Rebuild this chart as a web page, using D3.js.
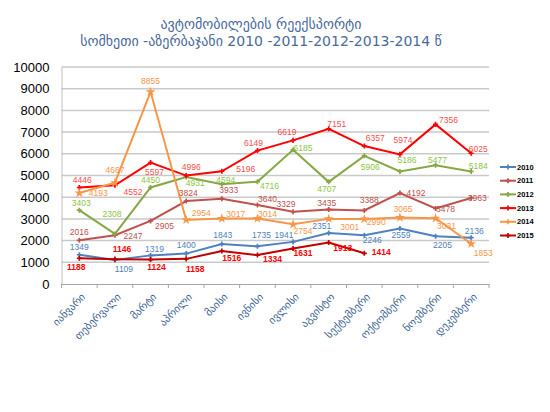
<!DOCTYPE html>
<html><head><meta charset="utf-8">
<script src="https://cdn.jsdelivr.net/npm/d3@7"></script>
<style>body{margin:0;background:#fff}</style>
</head><body><svg id="c" width="550" height="412"></svg>
<script>
const months = ["იანვარი","თებერვალი","მარტი","აპრილი","მაისი","ივნისი","ივლისი","აგვისტო","სექტემბერი","ოქტომბერი","ნოემბერი","დეკემბერი"];
const years = ["2010","2011","2012","2013","2014","2015"];
const v2010 = [1349,1109,1319,1400,1843,1735,1941,2351,2246,2559,2205,2136];
const v2011 = [2016,2247,2905,3824,3933,3640,3329,3435,3388,4192,3478,3963];
const v2012 = [3403,2308,4450,4931,4594,4716,6185,4707,5906,5186,5477,5184];
const v2013 = [4446,4552,5597,4996,5196,6149,6619,7151,6357,5974,7356,6025];
const v2014 = [4193,4667,8855,2954,3017,3014,2754,3001,2990,3065,3031,1853];
const v2015 = [1188,1146,1124,1158,1516,1334,1631,1913,1414];
const yTicks = [0,1000,2000,3000,4000,5000,6000,7000,8000,9000,10000];
const titleLines = ["ავტომობილების  რეექსპორტი","სომხეთი -აზერბაჯანი 2010 -2011-2012-2013-2014  წ"];

// label offsets (layout, separate from data)
const off2010 = [[0,-8],[9,9],[4,-6],[0,-9],[1,-9],[4,-11],[-9,-7],[-7,-7],[8,5],[1,7],[7,9],[3,-7]];
const off2011 = [[0,-8],[18,1],[14,5],[2,-8],[7,-9],[10,-6],[-7,-8],[-2,-6],[5,-10],[16,0],[10,0],[6,0]];
const off2012 = [[2,-7],[-3,-20],[0,-7],[9,6],[4,-4],[12,4],[10,-2],[-2,7],[6,11],[7,-11],[2,-5],[7,-5]];
const off2013 = [[3,-7],[18,7],[4,9],[5,-9],[24,-2],[-4,-8],[-6,-8],[8,-5],[11,-8],[3,-14],[13,-4],[7,-4]];
const off2014 = [[19,0],[0,-13],[0,-11],[15,-7],[14,-5],[10,-5],[10,7],[21,8],[12,3],[3,-8],[11,8],[12,9]];
const off2015 = [[-3,9],[7,-10],[6,7],[9,10],[10,7],[15,4],[10,4],[14,6],[17,-1]];

const series = [
  {name:"2010", vals:v2010, off:off2010, line:"#4f81bd", lab:"#4f81bd", bold:false},
  {name:"2011", vals:v2011, off:off2011, line:"#c0504d", lab:"#c0504d", bold:false},
  {name:"2012", vals:v2012, off:off2012, line:"#86a844", lab:"#8cc63f", bold:false},
  {name:"2013", vals:v2013, off:off2013, line:"#ff0000", lab:"#ff4d4d", bold:false},
  {name:"2014", vals:v2014, off:off2014, line:"#f79646", lab:"#f79646", bold:false},
  {name:"2015", vals:v2015, off:off2015, line:"#c00000", lab:"#ff0000", bold:true}
];

const svg = d3.select("#c");
const pL = 61.5, pR = 489, pT = 67, pB = 284;
const x = d3.scaleBand().domain(months).range([pL,pR]);
const y = d3.scaleLinear().domain([0,10000]).range([pB,pT]);
const cx = m => x(m) + x.bandwidth()/2;

// title
svg.selectAll("text.title").data(titleLines).enter().append("text")
  .attr("x",261).attr("y",(d,i)=>29+i*17).attr("text-anchor","middle")
  .attr("font-family","DejaVu Sans").attr("font-size",14).attr("fill","#4a6a9c").text(d=>d);

// gridlines
svg.append("g").selectAll("line").data(yTicks.slice(1)).enter().append("line")
  .attr("x1",pL).attr("x2",pR).attr("y1",d=>y(d)).attr("y2",d=>y(d))
  .attr("stroke","#c9c9c9").attr("stroke-width",1.5);

// y axis
const ya = svg.append("g").attr("transform",`translate(${pL},0)`)
  .call(d3.axisLeft(y).tickValues(yTicks).tickSize(0).tickPadding(12).tickFormat(d3.format("d")));
ya.select(".domain").attr("stroke","#c0c0c0");
ya.selectAll("text").attr("font-family","Liberation Sans").attr("font-size",13).attr("fill","#000");

// x axis
const xa = svg.append("g").attr("transform",`translate(0,${pB})`)
  .call(d3.axisBottom(x).tickSize(0).tickFormat(""));
xa.select(".domain").attr("stroke","#a6a6a6");
svg.append("g").selectAll("line").data(d3.range(months.length+1)).enter().append("line")
  .attr("x1",i=>pL+i*x.step()).attr("x2",i=>pL+i*x.step())
  .attr("y1",pB).attr("y2",pB+4).attr("stroke","#a6a6a6");
svg.append("g").selectAll("text").data(months).enter().append("text")
  .attr("transform",d=>`translate(${cx(d)+4},${pB+11}) rotate(-45)`)
  .attr("text-anchor","end").attr("dy","0.35em")
  .attr("font-family","DejaVu Sans").attr("font-size",10.5).attr("fill","#3b5f94").text(d=>d);

// lines
const line = d3.line().x((d,i)=>cx(months[i])).y(d=>y(d));
const marker = d3.symbol().type(d3.symbolCross).size(14);
series.forEach(s=>{
  const g = svg.append("g");
  g.append("path").attr("d",line(s.vals)).attr("fill","none").attr("stroke",s.line).attr("stroke-width",2);
  g.selectAll("path.m").data(s.vals).enter().append("path")
    .attr("transform",(d,i)=>`translate(${cx(months[i])},${y(d)})`)
    .attr("d", s.name==="2014" ? d3.symbol().type(d3.symbolStar).size(30)() : marker())
    .attr("fill",s.line);
});
// labels on top
series.forEach(s=>{
  svg.append("g").selectAll("text").data(s.vals).enter().append("text")
    .attr("x",(d,i)=>cx(months[i])+s.off[i][0]).attr("y",(d,i)=>y(d)+s.off[i][1])
    .attr("dy","0.35em").attr("text-anchor","middle")
    .attr("font-family","Liberation Sans").attr("font-size",8.5)
    .attr("font-weight",s.bold?"bold":"normal").attr("fill",s.lab).text(d=>d);
});

// legend
const lg = svg.append("g").selectAll("g").data(series).enter().append("g")
  .attr("transform",(d,i)=>`translate(500,${167+i*13.7})`);
lg.append("line").attr("x1",0).attr("x2",16).attr("stroke",d=>d.line).attr("stroke-width",2);
lg.append("path").attr("transform","translate(8,0)").attr("d",marker()).attr("fill",d=>d.line);
lg.append("text").attr("x",17).attr("dy","0.35em").attr("font-family","Liberation Sans")
  .attr("font-size",7.5).attr("font-weight","bold").attr("fill","#000").text(d=>d.name);
</script></body></html>
